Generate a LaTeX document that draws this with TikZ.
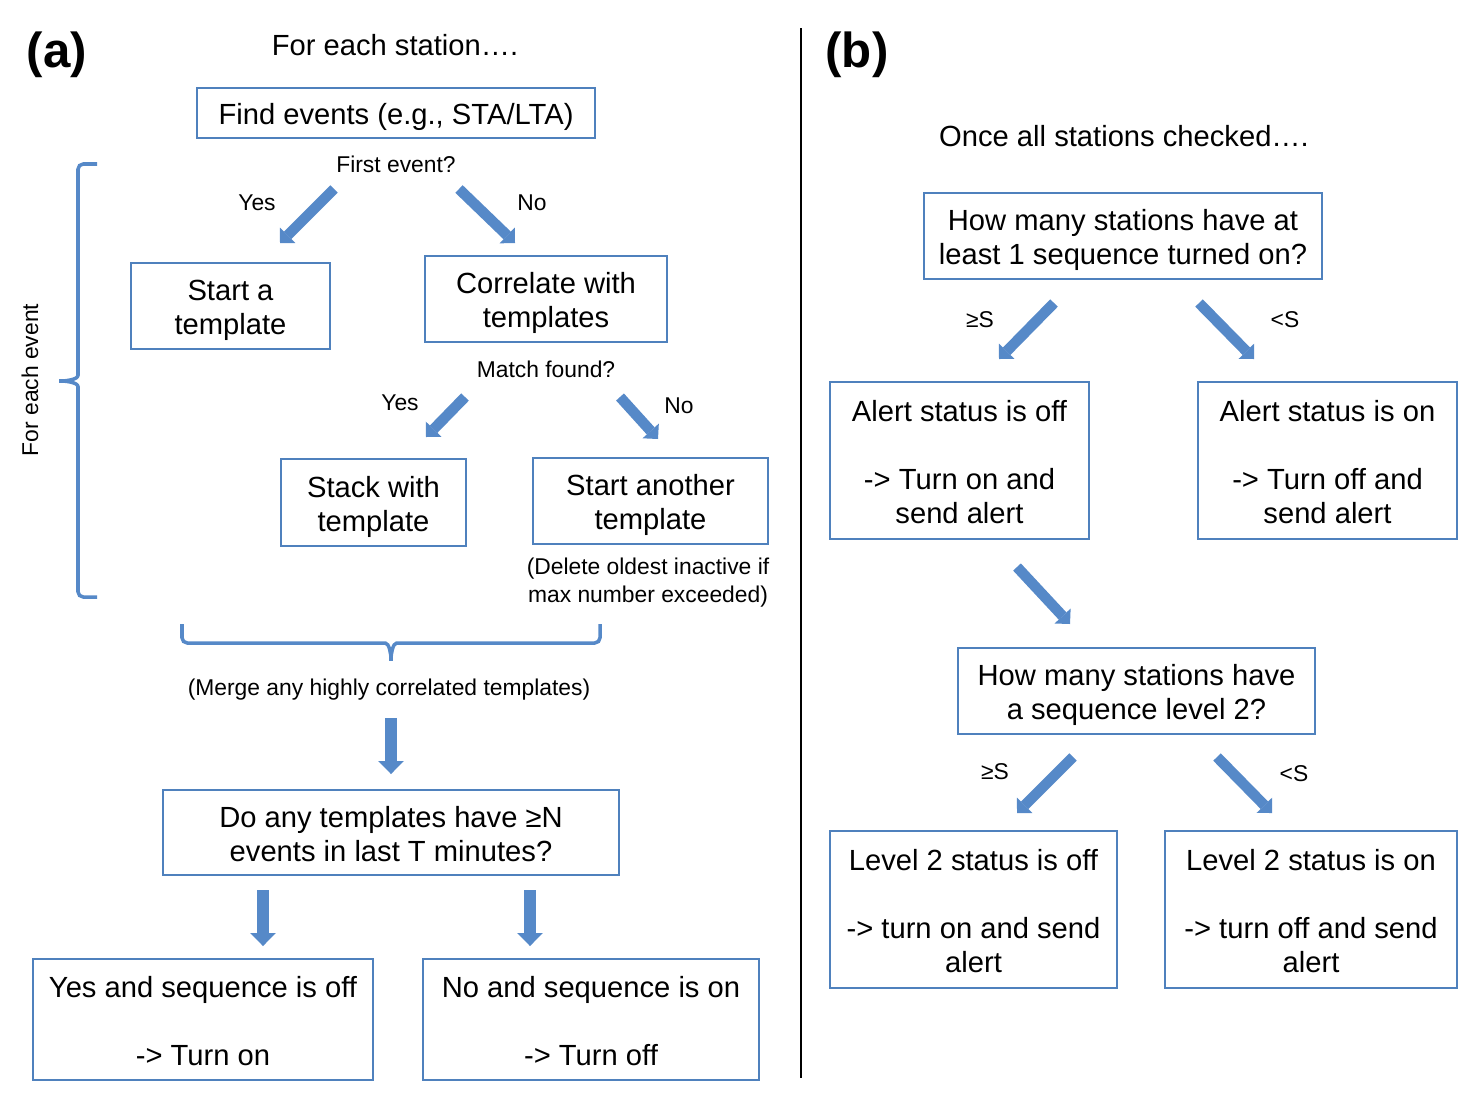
\documentclass[tikz,border=0pt]{standalone}
\usepackage{fontspec}
\setmainfont{Liberation Sans}
\usepackage{tikz}
\usetikzlibrary{arrows.meta}
\definecolor{boxblue}{RGB}{79,129,189}
\definecolor{arrowblue}{RGB}{86,137,200}

\tikzset{box/.style 2 args={draw=boxblue,line width=0.8pt,inner sep=0pt,align=flush center,
    text width=#1,minimum width=#1,minimum height=#2,font=\fontsize{16.6}{19.4}\selectfont,
    execute at begin node={\rule{0pt}{17.4pt}},execute at end node={\rule[-4pt]{0pt}{0pt}}}}

\begin{document}
\begin{tikzpicture}[x=0.02cm,y=-0.02cm]
  \tikzstyle{ttl}=[inner sep=0pt,font=\fontsize{16.6}{19.4}\selectfont]
  \tikzstyle{lbl}=[inner sep=0pt,align=center,font=\fontsize{13}{16}\selectfont]
  \tikzstyle{diagarrow}=[arrowblue,line width=6pt,-{Triangle[length=6.2pt,width=12.5pt,line width=0pt]}]
  \tikzstyle{vertarrow}=[arrowblue,line width=6.8pt,-{Triangle[length=7.4pt,width=14.7pt,line width=0pt]}]
  \tikzstyle{curly}=[arrowblue,line width=2pt,rounded corners=3pt]

  \useasboundingbox (0,0) rectangle (1476,1102);

  % panel (a)
  \node[font=\bfseries\fontsize{28}{32}\selectfont] (pa) at (57,55) {(a)};
  \node[ttl] (titlea) at (395,45) {For each station….};

  \node[box={7.96cm}{1cm}]    (find)    at (396,113)     {Find events (e.g., STA/LTA)};
  \node[box={3.98cm}{1.72cm}] (start)   at (230.5,306)   {Start a\\template};
  \node[box={4.84cm}{1.72cm}] (corr)    at (546,299)     {Correlate with\\templates};
  \node[box={3.7cm}{1.74cm}]  (stack)   at (373.5,502.5) {Stack with\\template};
  \node[box={4.7cm}{1.72cm}]  (another) at (650.5,501)   {Start another\\template};
  \node[box={9.12cm}{1.7cm}]  (doany)   at (391,832.5)   {Do any templates have ≥N\\events in last T minutes?};
  \node[box={6.8cm}{2.42cm}]  (yesseq)  at (203,1019.5)  {Yes and sequence is off\\[\baselineskip]-> Turn on};
  \node[box={6.72cm}{2.42cm}] (noseq)   at (591,1019.5)  {No and sequence is on\\[\baselineskip]-> Turn off};

  \node[lbl] (first) at (396,164) {First event?};
  \node[lbl] (yes1)  at (257,203) {Yes};
  \node[lbl] (no1)   at (532,203) {No};
  \node[lbl] (match) at (546,369) {Match found?};
  \node[lbl] (yes2)  at (400,403) {Yes};
  \node[lbl] (no2)   at (679,406) {No};
  \node[lbl] (del)   at (648,583) {(Delete oldest inactive if\\max number exceeded)};
  \node[lbl] (merge) at (389,690) {(Merge any highly correlated templates)};
  \node[lbl,rotate=90] (each) at (30,380) {For each event};

  \coordinate (y1s) at (334,189);  \coordinate (y1e) at (280,243);
  \coordinate (n1s) at (459,189);  \coordinate (n1e) at (515,243);
  \coordinate (y2s) at (465,397);  \coordinate (y2e) at (426,437);
  \coordinate (n2s) at (620,397);  \coordinate (n2e) at (658,439);
  \coordinate (ms)  at (391,718);  \coordinate (me)  at (391,774);
  \coordinate (ys)  at (263,890);  \coordinate (ye)  at (263,946);
  \coordinate (ns)  at (530,890);  \coordinate (ne)  at (530,946);

  \draw[diagarrow] (y1s) -- (y1e);
  \draw[diagarrow] (n1s) -- (n1e);
  \draw[diagarrow] (y2s) -- (y2e);
  \draw[diagarrow] (n2s) -- (n2e);
  \draw[vertarrow] (ms) -- (me);
  \draw[vertarrow] (ys) -- (ye);
  \draw[vertarrow] (ns) -- (ne);

  % braces
  \draw[curly] (97,164) -- (78,164) -- (78,370) to[out=-90,in=0] (56,381)
               to[out=0,in=90] (78,392) -- (78,597) -- (97,597);
  \draw[curly] (182,624) -- (182,643) -- (380,643) to[out=0,in=90] (391,664)
               to[out=90,in=180] (402,643) -- (600,643) -- (600,624);

  % divider
  \draw[line width=0.7pt] (801,28) -- (801,1078);

  % panel (b)
  \node[font=\bfseries\fontsize{28}{32}\selectfont] (pb) at (857,55) {(b)};
  \node[ttl] (titleb) at (1124,136) {Once all stations checked….};

  \node[box={7.96cm}{1.72cm}] (howmany)  at (1123,236)    {How many stations have at\\least 1 sequence turned on?};
  \node[box={5.18cm}{3.14cm}] (alertoff) at (959.5,460.5)  {Alert status is off\\[\baselineskip]-> Turn on and\\send alert};
  \node[box={5.18cm}{3.14cm}] (alerton)  at (1327.5,460.5) {Alert status is on\\[\baselineskip]-> Turn off and\\send alert};
  \node[box={7.14cm}{1.72cm}] (levelq)   at (1136.5,691)   {How many stations have\\a sequence level 2?};
  \node[box={5.74cm}{3.14cm}] (lvloff)   at (973.5,909.5)  {Level 2 status is off\\[\baselineskip]-> turn on and send\\alert};
  \node[box={5.84cm}{3.14cm}] (lvlon)    at (1311,909.5)   {Level 2 status is on\\[\baselineskip]-> turn off and send\\alert};

  \node[lbl] (ge1) at (980,320)  {≥S};
  \node[lbl] (lt1) at (1285,320) {<S};
  \node[lbl] (ge2) at (995,772)  {≥S};
  \node[lbl] (lt2) at (1294,774) {<S};

  \coordinate (g1s) at (1054,303); \coordinate (g1e) at (999,359);
  \coordinate (l1s) at (1199,303); \coordinate (l1e) at (1254,359);
  \coordinate (nxs) at (1017,567); \coordinate (nxe) at (1070,624);
  \coordinate (g2s) at (1073,757); \coordinate (g2e) at (1017,813);
  \coordinate (l2s) at (1217,757); \coordinate (l2e) at (1272,813);

  \draw[diagarrow] (g1s) -- (g1e);
  \draw[diagarrow] (l1s) -- (l1e);
  \draw[diagarrow] (nxs) -- (nxe);
  \draw[diagarrow] (g2s) -- (g2e);
  \draw[diagarrow] (l2s) -- (l2e);
\end{tikzpicture}
\end{document}
